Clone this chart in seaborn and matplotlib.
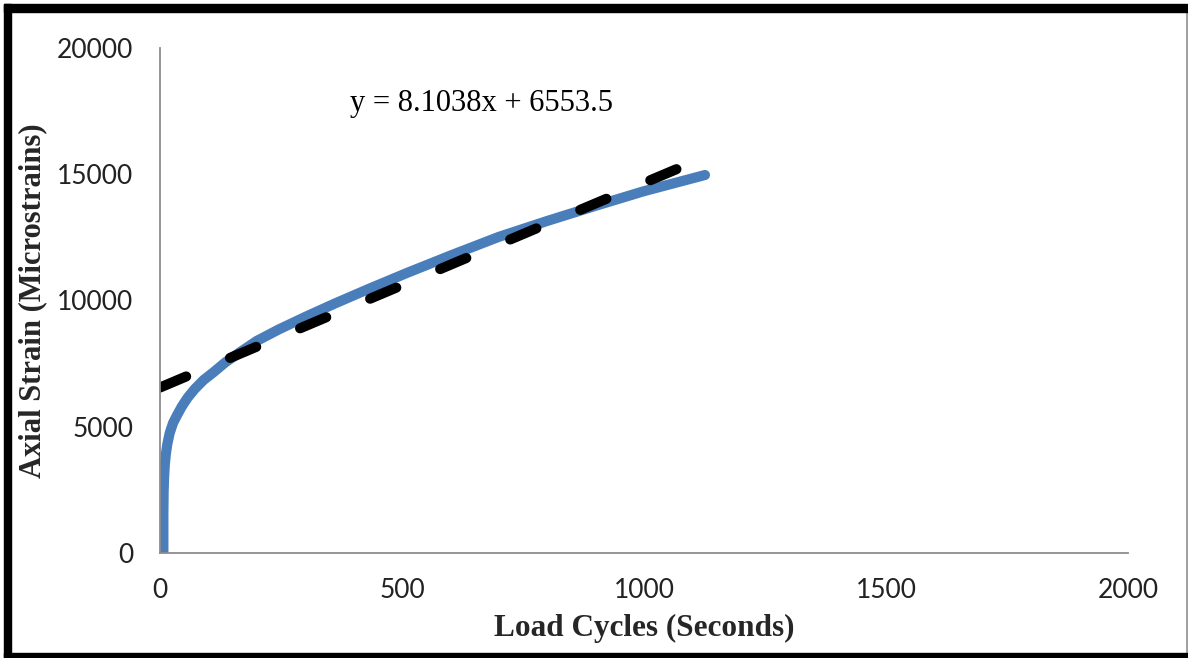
import matplotlib
matplotlib.use("Agg")
import matplotlib.pyplot as plt
from matplotlib.patches import Rectangle
from matplotlib.lines import Line2D
import numpy as np
import seaborn as sns

# Measured axial strain against load cycles
cycles = [7, 7, 7.5, 8.5, 10, 12, 15, 20, 27, 35, 45, 57, 72, 90, 110, 135,
          165, 200, 245, 300, 360, 430, 510, 600, 700, 800, 900, 1000, 1126]
strain = [0, 1500, 2400, 3000, 3500, 3900, 4300, 4750, 5150, 5450, 5800, 6150,
          6500, 6850, 7150, 7550, 7950, 8400, 8850, 9350, 9870, 10450, 11090,
          11780, 12520, 13150, 13750, 14330, 14970]

# Linear trendline coefficients
slope = 8.1038
intercept = 6553.5

x_ticks = [0, 500, 1000, 1500, 2000]
y_ticks = [0, 5000, 10000, 15000, 20000]

sns.set_theme(style="white")
plt.rcParams["font.family"] = ["Lato", "DejaVu Sans"]

fig = plt.figure(figsize=(11.88, 6.58), dpi=100)
ax = fig.add_axes([160 / 1188, 1 - 553 / 658, (1128 - 160) / 1188, (553 - 48) / 658])

sns.lineplot(x=cycles, y=strain, ax=ax, color="#4A7EBB", lw=7.3,
             estimator=None, sort=False, solid_capstyle="round",
             solid_joinstyle="round")

trend_x = np.array([0, cycles[-1]])
trend_y = slope * trend_x + intercept
sns.lineplot(x=trend_x, y=trend_y, ax=ax, color="black", lw=7.3,
             estimator=None, linestyle=(0, (2.8, 4.7)), dash_capstyle="round")

ax.set_xlim(0, 2000)
ax.set_ylim(0, 20000)
ax.set_xticks(x_ticks)
ax.set_yticks(y_ticks)
ax.set_xticklabels([str(v) for v in x_ticks])
ax.set_yticklabels([str(v) for v in y_ticks])
ax.tick_params(axis="both", length=0, labelsize=19, colors="#222222")
ax.tick_params(axis="x", pad=18)
ax.tick_params(axis="y", pad=19)

for side in ("top", "right"):
    ax.spines[side].set_visible(False)
for side in ("left", "bottom"):
    ax.spines[side].set_color("#8c8c8c")
    ax.spines[side].set_linewidth(1.3)

ax.set_xlabel("Load Cycles (Seconds)", family="Liberation Serif",
              fontweight="bold", fontsize=22.5, labelpad=8)
ax.set_ylabel("Axial Strain (Microstrains)", family="Liberation Serif",
              fontweight="bold", fontsize=22, labelpad=7)

ax.text(393, 17820, f"y = {slope}x + {intercept}", family="Liberation Serif",
        fontsize=22, ha="left", va="center", color="black")

# Outer frame around the figure
W, H = 1188, 658
fig.patches.append(Rectangle((4 / W, 0), 7 / W, 1 - 4 / H, transform=fig.transFigure,
                             color="black", zorder=10))
fig.patches.append(Rectangle((4 / W, 1 - 12 / H), 1 - 4 / W, 8 / H, transform=fig.transFigure,
                             color="black", zorder=10))
fig.patches.append(Rectangle((4 / W, 0), 1 - 4 / W, 5 / H, transform=fig.transFigure,
                             color="black", zorder=10))
fig.lines.append(Line2D([1186.5 / W, 1186.5 / W], [5 / H, 1 - 12 / H],
                        transform=fig.transFigure, color="#909090", lw=1.2))

fig.savefig("out.png", dpi=100)
